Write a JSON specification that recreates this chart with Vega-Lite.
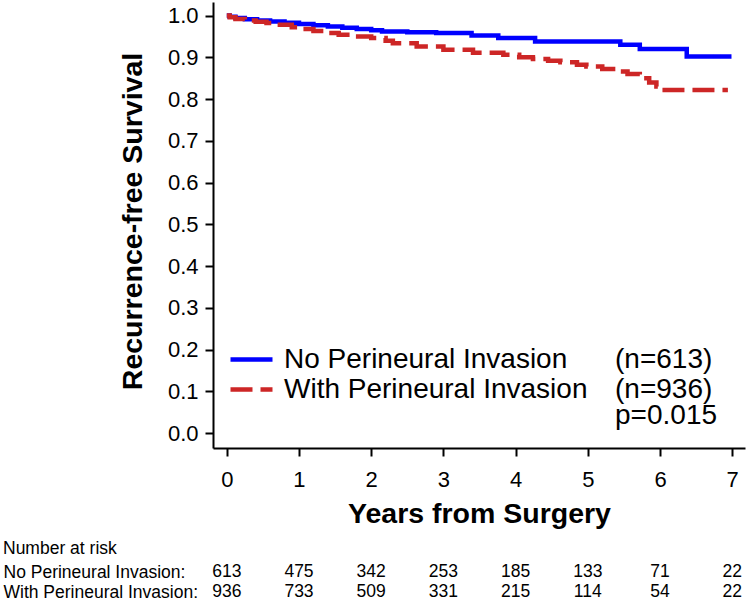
{
  "$schema": "https://vega.github.io/schema/vega-lite/v6.json",
  "background": "white",
  "padding": {"left": 3, "top": 2, "right": 2, "bottom": 0},
  "spacing": 11,
  "config": {
    "view": {"stroke": null},
    "font": "Liberation Sans",
    "axis": {
      "domainColor": "black", "domainWidth": 2,
      "tickColor": "black", "tickWidth": 2, "tickSize": 8,
      "labelColor": "black", "labelFont": "Liberation Sans", "labelFontSize": 22,
      "titleColor": "black", "titleFont": "Liberation Sans", "titleFontSize": 28.5, "titleFontWeight": "bold",
      "grid": false
    }
  },
  "vconcat": [
    {
      "width": 532,
      "height": 446,
      "layer": [
        {
          "data": {"values": [
            {"g": "No Perineural Invasion", "t": 0, "s": 1.0},
            {"g": "No Perineural Invasion", "t": 0.04, "s": 0.997},
            {"g": "No Perineural Invasion", "t": 0.12, "s": 0.994},
            {"g": "No Perineural Invasion", "t": 0.25, "s": 0.991},
            {"g": "No Perineural Invasion", "t": 0.42, "s": 0.988},
            {"g": "No Perineural Invasion", "t": 0.6, "s": 0.986},
            {"g": "No Perineural Invasion", "t": 0.8, "s": 0.983},
            {"g": "No Perineural Invasion", "t": 1.0, "s": 0.98},
            {"g": "No Perineural Invasion", "t": 1.2, "s": 0.977},
            {"g": "No Perineural Invasion", "t": 1.4, "s": 0.974},
            {"g": "No Perineural Invasion", "t": 1.6, "s": 0.971},
            {"g": "No Perineural Invasion", "t": 1.8, "s": 0.968},
            {"g": "No Perineural Invasion", "t": 2.0, "s": 0.965},
            {"g": "No Perineural Invasion", "t": 2.15, "s": 0.962},
            {"g": "No Perineural Invasion", "t": 2.5, "s": 0.96},
            {"g": "No Perineural Invasion", "t": 2.9, "s": 0.958},
            {"g": "No Perineural Invasion", "t": 3.39, "s": 0.952},
            {"g": "No Perineural Invasion", "t": 3.76, "s": 0.946},
            {"g": "No Perineural Invasion", "t": 4.27, "s": 0.938},
            {"g": "No Perineural Invasion", "t": 5.45, "s": 0.93},
            {"g": "No Perineural Invasion", "t": 5.72, "s": 0.92},
            {"g": "No Perineural Invasion", "t": 6.37, "s": 0.902},
            {"g": "No Perineural Invasion", "t": 6.99, "s": 0.902},
            {"g": "With Perineural Invasion", "t": 0, "s": 1.0},
            {"g": "With Perineural Invasion", "t": 0.04, "s": 0.996},
            {"g": "With Perineural Invasion", "t": 0.12, "s": 0.992},
            {"g": "With Perineural Invasion", "t": 0.25, "s": 0.988},
            {"g": "With Perineural Invasion", "t": 0.4, "s": 0.985},
            {"g": "With Perineural Invasion", "t": 0.55, "s": 0.982},
            {"g": "With Perineural Invasion", "t": 0.69, "s": 0.978},
            {"g": "With Perineural Invasion", "t": 0.9, "s": 0.972},
            {"g": "With Perineural Invasion", "t": 1.05, "s": 0.968},
            {"g": "With Perineural Invasion", "t": 1.2, "s": 0.963},
            {"g": "With Perineural Invasion", "t": 1.4, "s": 0.958},
            {"g": "With Perineural Invasion", "t": 1.55, "s": 0.954},
            {"g": "With Perineural Invasion", "t": 1.71, "s": 0.95},
            {"g": "With Perineural Invasion", "t": 2.0, "s": 0.946},
            {"g": "With Perineural Invasion", "t": 2.2, "s": 0.94},
            {"g": "With Perineural Invasion", "t": 2.3, "s": 0.934},
            {"g": "With Perineural Invasion", "t": 2.63, "s": 0.926},
            {"g": "With Perineural Invasion", "t": 3.0, "s": 0.918},
            {"g": "With Perineural Invasion", "t": 3.41, "s": 0.911},
            {"g": "With Perineural Invasion", "t": 3.83, "s": 0.906},
            {"g": "With Perineural Invasion", "t": 4.05, "s": 0.9},
            {"g": "With Perineural Invasion", "t": 4.24, "s": 0.896},
            {"g": "With Perineural Invasion", "t": 4.45, "s": 0.892},
            {"g": "With Perineural Invasion", "t": 4.62, "s": 0.888},
            {"g": "With Perineural Invasion", "t": 4.85, "s": 0.882},
            {"g": "With Perineural Invasion", "t": 4.98, "s": 0.878},
            {"g": "With Perineural Invasion", "t": 5.2, "s": 0.872},
            {"g": "With Perineural Invasion", "t": 5.35, "s": 0.866},
            {"g": "With Perineural Invasion", "t": 5.55, "s": 0.86},
            {"g": "With Perineural Invasion", "t": 5.72, "s": 0.85},
            {"g": "With Perineural Invasion", "t": 5.85, "s": 0.84},
            {"g": "With Perineural Invasion", "t": 5.95, "s": 0.83},
            {"g": "With Perineural Invasion", "t": 6.02, "s": 0.822},
            {"g": "With Perineural Invasion", "t": 6.94, "s": 0.822}
          ]},
          "mark": {"type": "line", "interpolate": "step-after", "strokeWidth": 4.5},
          "encoding": {
            "x": {
              "field": "t", "type": "quantitative",
              "scale": {"domain": [-0.191, 7.177], "nice": false, "zero": false},
              "axis": {"values": [0, 1, 2, 3, 4, 5, 6, 7], "format": "d", "title": "Years from Surgery", "labelPadding": 13, "titlePadding": 9}
            },
            "y": {
              "field": "s", "type": "quantitative",
              "scale": {"domain": [-0.0355, 1.0325], "nice": false, "zero": false},
              "axis": {"values": [0, 0.1, 0.2, 0.3, 0.4, 0.5, 0.6, 0.7, 0.8, 0.9, 1.0], "format": ".1f", "title": "Recurrence-free Survival", "labelPadding": 7, "titlePadding": 20, "titleY": 219}
            },
            "color": {
              "field": "g", "type": "nominal",
              "scale": {"domain": ["No Perineural Invasion", "With Perineural Invasion"], "range": ["#0000FF", "#CD2626"]},
              "legend": {"orient": "none", "legendX": 15, "legendY": 343.5, "title": null, "padding": 0, "symbolType": "stroke", "symbolSize": 1764, "symbolStrokeWidth": 4.5, "labelFontSize": 28, "labelFont": "Liberation Sans", "labelColor": "black", "labelOffset": 9, "rowPadding": 2, "clipHeight": 28, "labelLimit": 500}
            },
            "strokeDash": {
              "field": "g", "type": "nominal",
              "scale": {"domain": ["No Perineural Invasion", "With Perineural Invasion"], "range": [[1, 0], [22, 8]]},
              "legend": {"orient": "none", "legendX": 15, "legendY": 343.5, "title": null, "padding": 0, "symbolType": "stroke", "symbolSize": 1764, "symbolStrokeWidth": 4.5, "labelFontSize": 28, "labelFont": "Liberation Sans", "labelColor": "black", "labelOffset": 9, "rowPadding": 2, "clipHeight": 28, "labelLimit": 500}
            }
          }
        },
        {
          "data": {"values": [
            {"label": "(n=613)", "t": 5.377, "v": 0.1568},
            {"label": "(n=936)", "t": 5.377, "v": 0.0843},
            {"label": "p=0.015", "t": 5.377, "v": 0.0227}
          ]},
          "mark": {"type": "text", "align": "left", "baseline": "alphabetic", "fontSize": 28, "font": "Liberation Sans", "color": "black"},
          "encoding": {
            "x": {"field": "t", "type": "quantitative"},
            "y": {"field": "v", "type": "quantitative"},
            "text": {"field": "label", "type": "nominal"}
          }
        }
      ]
    },
    {
      "width": 532,
      "height": 40,
      "title": {"text": "Number at risk", "anchor": "start", "frame": "bounds", "fontSize": 17.5, "fontWeight": "normal", "font": "Liberation Sans", "color": "black", "offset": 5},
      "data": {"values": [
        {"g": "No Perineural Invasion:", "t": 0, "n": 613},
        {"g": "No Perineural Invasion:", "t": 1, "n": 475},
        {"g": "No Perineural Invasion:", "t": 2, "n": 342},
        {"g": "No Perineural Invasion:", "t": 3, "n": 253},
        {"g": "No Perineural Invasion:", "t": 4, "n": 185},
        {"g": "No Perineural Invasion:", "t": 5, "n": 133},
        {"g": "No Perineural Invasion:", "t": 6, "n": 71},
        {"g": "No Perineural Invasion:", "t": 7, "n": 22},
        {"g": "With Perineural Invasion:", "t": 0, "n": 936},
        {"g": "With Perineural Invasion:", "t": 1, "n": 733},
        {"g": "With Perineural Invasion:", "t": 2, "n": 509},
        {"g": "With Perineural Invasion:", "t": 3, "n": 331},
        {"g": "With Perineural Invasion:", "t": 4, "n": 215},
        {"g": "With Perineural Invasion:", "t": 5, "n": 114},
        {"g": "With Perineural Invasion:", "t": 6, "n": 54},
        {"g": "With Perineural Invasion:", "t": 7, "n": 22}
      ]},
      "mark": {"type": "text", "fontSize": 17.5, "font": "Liberation Sans", "color": "black"},
      "encoding": {
        "x": {"field": "t", "type": "quantitative", "scale": {"domain": [-0.191, 7.177], "nice": false, "zero": false}, "axis": null},
        "y": {
          "field": "g", "type": "nominal",
          "sort": ["No Perineural Invasion:", "With Perineural Invasion:"],
          "scale": {"type": "point", "padding": 0.5},
          "axis": {"title": null, "domain": false, "ticks": false, "tickSize": 0, "labelAlign": "left", "labelPadding": 210, "labelFontSize": 17.5, "labelLimit": 0}
        },
        "text": {"field": "n", "type": "quantitative"}
      }
    }
  ]
}
